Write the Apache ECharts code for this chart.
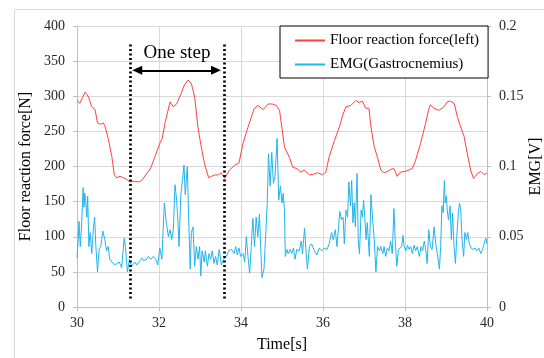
<!DOCTYPE html>
<html><head><meta charset="utf-8">
<script src="https://cdn.jsdelivr.net/npm/echarts@6/dist/echarts.min.js"></script>
<style>html,body{margin:0;padding:0;background:#fff}#c{width:544px;height:358px}</style>
</head><body><div id="c"></div>
<script>
var forceData = [[30.00,294],[30.07,290],[30.13,298],[30.20,306],[30.28,299],[30.36,285],[30.44,281],[30.50,262],[30.57,260],[30.64,262],[30.68,258],[30.76,240],[30.85,214],[30.91,188],[30.97,184],[31.05,186],[31.13,184],[31.20,182],[31.29,178],[31.40,179],[31.50,178],[31.58,180],[31.70,190],[31.80,198],[31.90,214],[32.02,233],[32.08,240],[32.15,263],[32.27,292],[32.35,285],[32.43,289],[32.54,304],[32.62,316],[32.71,323],[32.79,318],[32.87,299],[32.95,256],[33.03,228],[33.11,204],[33.21,184],[33.28,186],[33.36,188],[33.45,188],[33.52,191],[33.60,183],[33.72,195],[33.85,202],[33.95,205],[34.05,233],[34.17,256],[34.32,282],[34.41,287],[34.54,281],[34.66,289],[34.76,289],[34.86,287],[34.94,280],[35.06,228],[35.18,213],[35.26,199],[35.36,197],[35.46,192],[35.54,195],[35.67,188],[35.77,189],[35.87,191],[35.99,188],[36.07,192],[36.15,214],[36.28,237],[36.40,256],[36.48,273],[36.56,285],[36.68,287],[36.80,294],[36.88,291],[36.96,293],[37.04,283],[37.12,283],[37.17,256],[37.25,228],[37.33,213],[37.41,195],[37.49,191],[37.57,193],[37.65,196],[37.73,197],[37.81,186],[37.89,192],[38.00,193],[38.18,197],[38.26,209],[38.38,233],[38.50,261],[38.58,282],[38.62,288],[38.70,283],[38.83,280],[38.95,285],[39.03,292],[39.11,293],[39.20,290],[39.28,270],[39.36,256],[39.44,243],[39.52,218],[39.60,195],[39.67,183],[39.77,190],[39.85,193],[39.93,188],[40.00,191]];

var emgData = [[30.00,0.035],[30.03,0.048],[30.05,0.061],[30.08,0.043],[30.11,0.057],[30.15,0.085],[30.17,0.071],[30.19,0.081],[30.21,0.076],[30.24,0.064],[30.26,0.079],[30.29,0.043],[30.32,0.053],[30.36,0.038],[30.40,0.056],[30.43,0.064],[30.46,0.043],[30.50,0.025],[30.54,0.041],[30.58,0.043],[30.63,0.054],[30.68,0.048],[30.72,0.040],[30.76,0.043],[30.80,0.034],[30.85,0.032],[30.89,0.031],[30.93,0.030],[30.97,0.029],[31.03,0.032],[31.09,0.028],[31.15,0.049],[31.18,0.043],[31.23,0.025],[31.28,0.034],[31.33,0.029],[31.41,0.032],[31.46,0.030],[31.50,0.031],[31.54,0.033],[31.58,0.035],[31.62,0.033],[31.66,0.032],[31.70,0.034],[31.74,0.036],[31.80,0.034],[31.86,0.036],[31.92,0.034],[31.97,0.030],[32.02,0.042],[32.07,0.034],[32.13,0.074],[32.17,0.062],[32.23,0.050],[32.27,0.055],[32.31,0.048],[32.35,0.055],[32.39,0.087],[32.43,0.076],[32.46,0.062],[32.49,0.043],[32.53,0.079],[32.57,0.090],[32.61,0.101],[32.64,0.080],[32.69,0.100],[32.72,0.067],[32.76,0.027],[32.79,0.053],[32.83,0.057],[32.87,0.029],[32.91,0.043],[32.95,0.034],[32.99,0.043],[33.02,0.022],[33.05,0.040],[33.10,0.032],[33.13,0.040],[33.18,0.029],[33.22,0.038],[33.26,0.034],[33.30,0.040],[33.34,0.031],[33.38,0.036],[33.42,0.030],[33.47,0.041],[33.52,0.030],[33.58,0.034],[33.64,0.036],[33.70,0.040],[33.77,0.041],[33.83,0.038],[33.87,0.043],[33.91,0.037],[33.95,0.042],[33.99,0.036],[34.05,0.038],[34.09,0.032],[34.13,0.050],[34.17,0.036],[34.21,0.024],[34.25,0.043],[34.29,0.063],[34.33,0.043],[34.37,0.064],[34.41,0.050],[34.45,0.066],[34.51,0.021],[34.56,0.027],[34.60,0.050],[34.64,0.074],[34.67,0.109],[34.71,0.086],[34.75,0.110],[34.79,0.088],[34.83,0.093],[34.88,0.120],[34.92,0.076],[34.96,0.086],[35.00,0.074],[35.03,0.081],[35.06,0.069],[35.08,0.036],[35.12,0.041],[35.15,0.038],[35.20,0.041],[35.24,0.038],[35.28,0.042],[35.32,0.034],[35.36,0.041],[35.42,0.040],[35.47,0.047],[35.50,0.038],[35.55,0.056],[35.59,0.038],[35.62,0.027],[35.67,0.043],[35.72,0.045],[35.79,0.040],[35.85,0.037],[35.91,0.042],[35.97,0.040],[36.03,0.042],[36.10,0.041],[36.15,0.045],[36.21,0.053],[36.25,0.048],[36.30,0.055],[36.34,0.043],[36.38,0.057],[36.41,0.068],[36.45,0.062],[36.49,0.064],[36.52,0.045],[36.56,0.069],[36.60,0.064],[36.63,0.089],[36.67,0.072],[36.70,0.090],[36.73,0.060],[36.76,0.074],[36.79,0.057],[36.83,0.095],[36.86,0.048],[36.89,0.038],[36.93,0.069],[36.96,0.064],[36.99,0.076],[37.02,0.064],[37.05,0.048],[37.08,0.060],[37.13,0.036],[37.17,0.080],[37.21,0.062],[37.25,0.048],[37.29,0.025],[37.33,0.043],[37.38,0.040],[37.41,0.043],[37.46,0.038],[37.49,0.043],[37.53,0.036],[37.57,0.042],[37.61,0.040],[37.65,0.047],[37.69,0.038],[37.73,0.070],[37.76,0.048],[37.80,0.029],[37.84,0.041],[37.88,0.040],[37.92,0.043],[37.95,0.051],[37.98,0.043],[38.02,0.040],[38.06,0.044],[38.10,0.041],[38.14,0.043],[38.18,0.038],[38.22,0.044],[38.26,0.040],[38.30,0.043],[38.35,0.036],[38.39,0.043],[38.43,0.040],[38.47,0.047],[38.51,0.040],[38.54,0.031],[38.58,0.055],[38.62,0.043],[38.66,0.041],[38.71,0.057],[38.75,0.045],[38.79,0.038],[38.84,0.027],[38.87,0.043],[38.90,0.072],[38.93,0.067],[38.96,0.090],[38.98,0.074],[39.01,0.079],[39.03,0.069],[39.06,0.062],[39.10,0.072],[39.13,0.048],[39.16,0.067],[39.20,0.041],[39.23,0.031],[39.26,0.048],[39.30,0.067],[39.33,0.074],[39.36,0.069],[39.39,0.048],[39.43,0.036],[39.46,0.053],[39.50,0.048],[39.53,0.053],[39.57,0.045],[39.61,0.042],[39.66,0.041],[39.71,0.042],[39.75,0.040],[39.80,0.042],[39.85,0.038],[39.89,0.041],[39.93,0.040],[39.97,0.049],[40.00,0.045]];

var seriesNames = ['Floor reaction force(left)', 'EMG(Gastrocnemius)'];
var seriesColors = ['#ff4040', '#22b4ee'];
var xTicks = {min: 30, max: 40, interval: 2};
var leftTicks = {min: 0, max: 400, interval: 50};
var rightTicks = {min: 0, max: 0.2, interval: 0.05};
var stepBounds = [31.29, 33.585];
var stepLineRange = [12, 374];
var arrowEnds = [31.47, 33.39];
var arrowLevel = 337;
var stepLabel = {text: 'One step', at: [32.44, 361]};

var serif = '"Liberation Serif", "Times New Roman", serif';
var axisGray = '#bfbfbf';
var gridGray = '#d9d9d9';
var txt = '#262626';

var chart = echarts.init(document.getElementById('c'), null, {renderer: 'canvas'});
chart.setOption({
  animation: false,
  backgroundColor: '#fff',
  color: seriesColors,
  textStyle: {fontFamily: serif},
  graphic: [{type: 'rect', left: 12, top: 7, shape: {width: 600, height: 400}, style: {fill: 'none', stroke: gridGray, lineWidth: 1}, z: -10, silent: true}],
  grid: {left: 77, right: 57, top: 26, bottom: 51, containLabel: false, outerBoundsMode: 'none'},
  legend: {
    orient: 'vertical', left: 280, top: 26,
    padding: [6, 9, 5, 14], itemGap: 7, itemWidth: 30, itemHeight: 17,
    itemStyle: {color: 'transparent', borderColor: 'transparent', borderWidth: 0, opacity: 0},
    borderColor: '#000', borderWidth: 1, backgroundColor: '#fff',
    textStyle: {fontFamily: serif, fontSize: 15, color: '#000', lineHeight: 17},
    data: seriesNames
  },
  xAxis: {
    type: 'value', min: xTicks.min, max: xTicks.max, interval: xTicks.interval,
    name: 'Time[s]', nameLocation: 'middle', nameGap: 30, nameMoveOverlap: false,
    nameTextStyle: {fontFamily: serif, fontSize: 16, color: '#000'},
    axisLine: {show: true, lineStyle: {color: axisGray}},
    axisTick: {show: true, length: 4, lineStyle: {color: axisGray}},
    axisLabel: {fontFamily: serif, fontSize: 14, color: txt, margin: 9},
    splitLine: {show: true, lineStyle: {color: gridGray}}
  },
  yAxis: [{
    type: 'value', position: 'left', min: leftTicks.min, max: leftTicks.max, interval: leftTicks.interval,
    name: 'Floor reaction force[N]', nameLocation: 'middle', nameGap: 43, nameMoveOverlap: false,
    nameTextStyle: {fontFamily: serif, fontSize: 16, color: '#000'},
    axisLine: {show: true, lineStyle: {color: axisGray}},
    axisTick: {show: true, length: 4, lineStyle: {color: axisGray}},
    axisLabel: {fontFamily: serif, fontSize: 14, color: txt, margin: 12},
    splitLine: {show: true, lineStyle: {color: gridGray}}
  }, {
    type: 'value', position: 'right', min: rightTicks.min, max: rightTicks.max, interval: rightTicks.interval,
    name: 'EMG[V]', nameLocation: 'middle', nameGap: 41, nameRotate: 90, nameMoveOverlap: false,
    nameTextStyle: {fontFamily: serif, fontSize: 16, color: '#000'},
    axisLine: {show: true, lineStyle: {color: axisGray}},
    axisTick: {show: true, length: 4, lineStyle: {color: axisGray}},
    axisLabel: {fontFamily: serif, fontSize: 14, color: txt, margin: 12},
    splitLine: {show: false}
  }],
  series: [{
    name: seriesNames[0], type: 'line', yAxisIndex: 0, data: forceData,
    showSymbol: false, symbol: 'none', smooth: false,
    lineStyle: {color: seriesColors[0], width: 1}, itemStyle: {color: seriesColors[0]}, z: 3,
    markLine: {
      silent: true, symbol: ['none', 'none'], label: {show: false},
      lineStyle: {color: '#000', type: [2, 2.5], width: 2.7},
      data: [
        [{coord: [stepBounds[0], stepLineRange[0]]}, {coord: [stepBounds[0], stepLineRange[1]]}],
        [{coord: [stepBounds[1], stepLineRange[0]]}, {coord: [stepBounds[1], stepLineRange[1]]}]
      ]
    },
    markPoint: {
      silent: true, symbol: 'circle', symbolSize: 0,
      label: {show: true, position: 'inside', formatter: stepLabel.text, fontFamily: serif, fontSize: 19, color: '#000'},
      data: [{coord: stepLabel.at}]
    }
  }, {
    name: seriesNames[1], type: 'line', yAxisIndex: 1, data: emgData,
    showSymbol: false, symbol: 'none', smooth: false,
    lineStyle: {color: seriesColors[1], width: 1}, itemStyle: {color: seriesColors[1]}, z: 2,
    markLine: {
      silent: true, symbol: ['triangle', 'triangle'], symbolSize: [9, 10], label: {show: false},
      lineStyle: {color: '#000', type: 'solid', width: 2},
      itemStyle: {color: '#000'},
      data: [[{coord: [arrowEnds[0], arrowLevel * rightTicks.max / leftTicks.max]}, {coord: [arrowEnds[1], arrowLevel * rightTicks.max / leftTicks.max]}]]
    }
  }]
});
</script></body></html>
